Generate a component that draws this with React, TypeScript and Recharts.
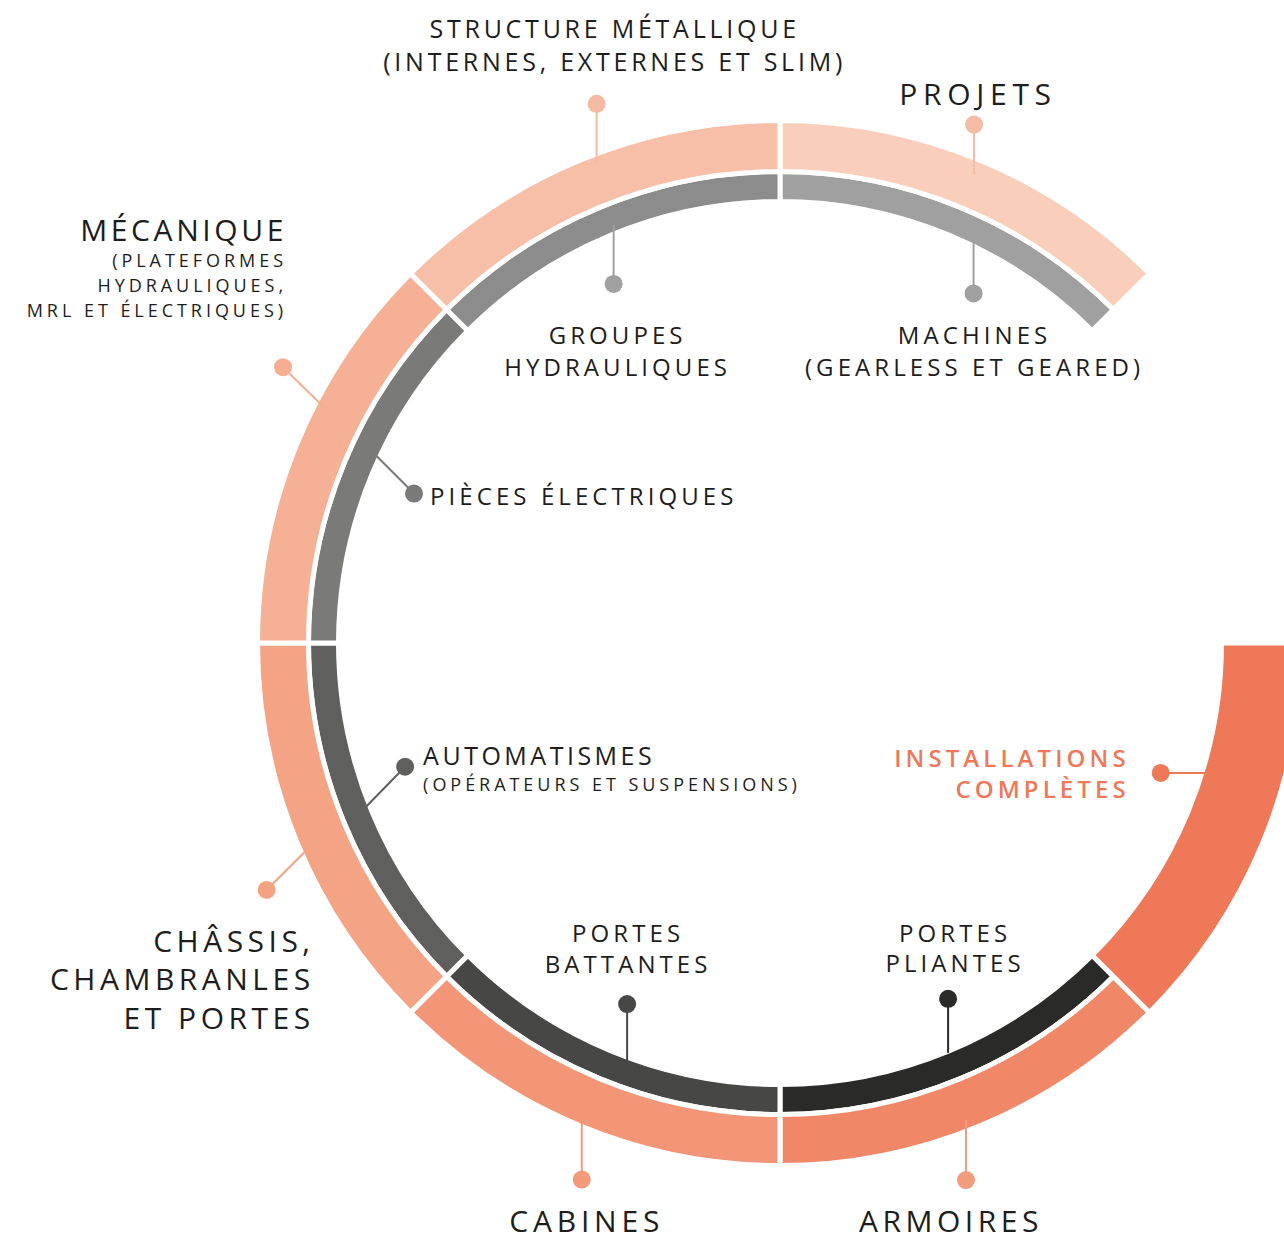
import { PieChart, Pie, Cell } from 'recharts'

// each segment is one share of the ring (45°), blanks keep the open quarter
const outerCategories = ['Projets', 'vide', 'Armoires', 'Cabines', 'Châssis', 'Mécanique', 'Structure métallique']
const outerShares = [1, 2, 1, 1, 1, 1, 1]

const innerCategories = ['Machines', 'vide', 'Portes pliantes', 'Portes battantes', 'Automatismes', 'Pièces électriques', 'Groupes hydrauliques']
const innerShares = [1, 2, 1, 1, 1, 1, 1]

const fullCategories = ['vide', 'Installations complètes', 'vide']
const fullShares = [2, 1, 5]

const LABEL_TEXT: Record<string, string[]> = {
  'Projets': ['PROJETS'],
  'Structure métallique': ['STRUCTURE MÉTALLIQUE', '(INTERNES, EXTERNES ET SLIM)'],
  'Mécanique': ['MÉCANIQUE', '(PLATEFORMES', 'HYDRAULIQUES,', 'MRL ET ÉLECTRIQUES)'],
  'Châssis': ['CHÂSSIS,', 'CHAMBRANLES', 'ET PORTES'],
  'Cabines': ['CABINES'],
  'Armoires': ['ARMOIRES'],
  'Installations complètes': ['INSTALLATIONS', 'COMPLÈTES'],
  'Machines': ['MACHINES', '(GEARLESS ET GEARED)'],
  'Groupes hydrauliques': ['GROUPES', 'HYDRAULIQUES'],
  'Pièces électriques': ['PIÈCES ÉLECTRIQUES'],
  'Automatismes': ['AUTOMATISMES', '(OPÉRATEURS ET SUSPENSIONS)'],
  'Portes battantes': ['PORTES', 'BATTANTES'],
  'Portes pliantes': ['PORTES', 'PLIANTES'],
}

const COLORS: Record<string, string> = {
  'Projets': '#F9CEBB',
  'Structure métallique': '#F7BEA8',
  'Mécanique': '#F5B095',
  'Châssis': '#F4A385',
  'Cabines': '#F29677',
  'Armoires': '#F08767',
  'Installations complètes': '#EE7857',
  'Machines': '#A0A0A0',
  'Groupes hydrauliques': '#8C8C8C',
  'Pièces électriques': '#7A7A78',
  'Automatismes': '#5F5F5D',
  'Portes battantes': '#474746',
  'Portes pliantes': '#2A2A28',
}

type LabelLayout = {
  dAngle: number
  r: number
  dot: [number, number]
  text: [number, number]
  anchor: 'start' | 'middle' | 'end'
  sizes: number[]
  gaps: number[]
  ls: number[]
  dotColor: string
  textColor?: string
  weight?: number
}

const LAYOUT: Record<string, LabelLayout> = {
  'Projets': { dAngle: 0, r: 507, dot: [0, -50], text: [4, -20], anchor: 'middle', sizes: [30], gaps: [0], ls: [0.19], dotColor: '#F7BCA6' },
  'Structure métallique': { dAngle: 1.6, r: 514, dot: [0, -59], text: [18, -66], anchor: 'middle', sizes: [25, 25], gaps: [0, 33], ls: [0.15, 0.15], dotColor: '#F6B9A2' },
  'Mécanique': { dAngle: 4.8, r: 512, dot: [-42, -41], text: [4, -126], anchor: 'end', sizes: [30, 18, 18, 18], gaps: [0, 26, 25, 25], ls: [0.12, 0.22, 0.22, 0.22], dotColor: '#F5AE93' },
  'Châssis': { dAngle: -1, r: 514, dot: [-42, 42], text: [48, 62], anchor: 'end', sizes: [30, 30, 30], gaps: [0, 38, 39], ls: [0.15, 0.15, 0.15], dotColor: '#F4A284' },
  'Cabines': { dAngle: 0, r: 518, dot: [0, 58], text: [5, 52], anchor: 'middle', sizes: [30], gaps: [0], ls: [0.16], dotColor: '#F39A7C' },
  'Armoires': { dAngle: 1.2, r: 512, dot: [0, 60], text: [-15, 52], anchor: 'middle', sizes: [30], gaps: [0], ls: [0.15], dotColor: '#F29C7E' },
  'Installations complètes': { dAngle: -5.6, r: 447, dot: [-47, 0], text: [-31, -6], anchor: 'end', sizes: [24, 24], gaps: [0, 31], ls: [0.17, 0.17], dotColor: '#EE7857', textColor: '#EE7857', weight: 600 },
  'Machines': { dAngle: 2.8, r: 453, dot: [0, 60], text: [1, 51], anchor: 'middle', sizes: [24, 24], gaps: [0, 32], ls: [0.17, 0.17], dotColor: '#A0A0A0' },
  'Groupes hydrauliques': { dAngle: 0.8, r: 450, dot: [0, 59], text: [4, 60], anchor: 'middle', sizes: [24, 24], gaps: [0, 32], ls: [0.17, 0.17], dotColor: '#A0A0A0' },
  'Pièces électriques': { dAngle: 2.7, r: 452, dot: [43, 43], text: [16, 11], anchor: 'start', sizes: [24], gaps: [0], ls: [0.17], dotColor: '#7A7A78' },
  'Automatismes': { dAngle: 0.7, r: 449, dot: [42, -43], text: [18, -2], anchor: 'start', sizes: [25, 18], gaps: [0, 26], ls: [0.14, 0.22], dotColor: '#5F5F5D' },
  'Portes battantes': { dAngle: -2.5, r: 447, dot: [0, -59], text: [1, -62], anchor: 'middle', sizes: [24, 24], gaps: [0, 31], ls: [0.17, 0.17], dotColor: '#474746' },
  'Portes pliantes': { dAngle: 0.2, r: 443, dot: [0, -54], text: [7, -57], anchor: 'middle', sizes: [24, 24], gaps: [0, 30], ls: [0.17, 0.17], dotColor: '#2A2A28' },
}

const toData = (names: string[], values: number[]) =>
  names.map((name, i) => ({ name, value: values[i] }))

const polar = (cx: number, cy: number, r: number, deg: number) => ({
  x: cx + r * Math.sin((deg * Math.PI) / 180),
  y: cy - r * Math.cos((deg * Math.PI) / 180),
})

function renderLabel(props: any) {
  const { cx, cy, midAngle } = props
  const name = props.name ?? props.payload?.name
  const cfg = LAYOUT[name]
  if (!cfg) return null
  const a = polar(cx, cy, cfg.r, 90 - midAngle + cfg.dAngle)
  const dx = a.x + cfg.dot[0]
  const dy = a.y + cfg.dot[1]
  const lines = LABEL_TEXT[name]
  let y = dy + cfg.text[1]
  return (
    <g>
      <line x1={a.x} y1={a.y} x2={dx} y2={dy} stroke={cfg.dotColor} strokeWidth={2} />
      <circle cx={dx} cy={dy} r={9} fill={cfg.dotColor} />
      <text
        textAnchor={cfg.anchor}
        fill={cfg.textColor ?? '#1d1d1b'}
        fontWeight={cfg.weight ?? 400}
        style={{ fontFamily: '"Open Sans", sans-serif' }}
      >
        {lines.map((line, i) => {
          y += cfg.gaps[i]
          const size = cfg.sizes[i]
          return (
            <tspan key={i} x={dx + cfg.text[0]} y={y} fontSize={size} style={{ letterSpacing: size * cfg.ls[i] }}>
              {line}
            </tspan>
          )
        })}
      </text>
    </g>
  )
}

const cellProps = (name: string) =>
  name === 'vide'
    ? { fill: 'none', stroke: 'none' }
    : { fill: COLORS[name], stroke: '#ffffff', strokeWidth: 5 }

export default function App() {
  return (
    <div style={{ position: 'absolute', left: 0, top: 0, width: 1284, height: 1241, overflow: 'hidden', background: '#fff' }}>
      <PieChart width={1284} height={1241} margin={{ top: 0, right: 0, bottom: 0, left: 0 }}>
        <Pie
          data={toData(innerCategories, innerShares)}
          dataKey="value"
          nameKey="name"
          cx={780}
          cy={643}
          startAngle={90}
          endAngle={-270}
          innerRadius={441.5}
          outerRadius={471.5}
          label={renderLabel}
          labelLine={false}
          isAnimationActive={false}
        >
          {innerCategories.map((name, i) => (
            <Cell key={i} {...cellProps(name)} />
          ))}
        </Pie>
        <Pie
          data={toData(outerCategories, outerShares)}
          dataKey="value"
          nameKey="name"
          cx={780}
          cy={643}
          startAngle={90}
          endAngle={-270}
          innerRadius={471.5}
          outerRadius={522.5}
          label={renderLabel}
          labelLine={false}
          isAnimationActive={false}
        >
          {outerCategories.map((name, i) => (
            <Cell key={i} {...cellProps(name)} />
          ))}
        </Pie>
        <Pie
          data={toData(fullCategories, fullShares)}
          dataKey="value"
          nameKey="name"
          cx={780}
          cy={643}
          startAngle={90}
          endAngle={-270}
          innerRadius={441.5}
          outerRadius={522.5}
          label={renderLabel}
          labelLine={false}
          isAnimationActive={false}
        >
          {fullCategories.map((name, i) => (
            <Cell key={i} {...cellProps(name)} />
          ))}
        </Pie>
      </PieChart>
    </div>
  )
}
